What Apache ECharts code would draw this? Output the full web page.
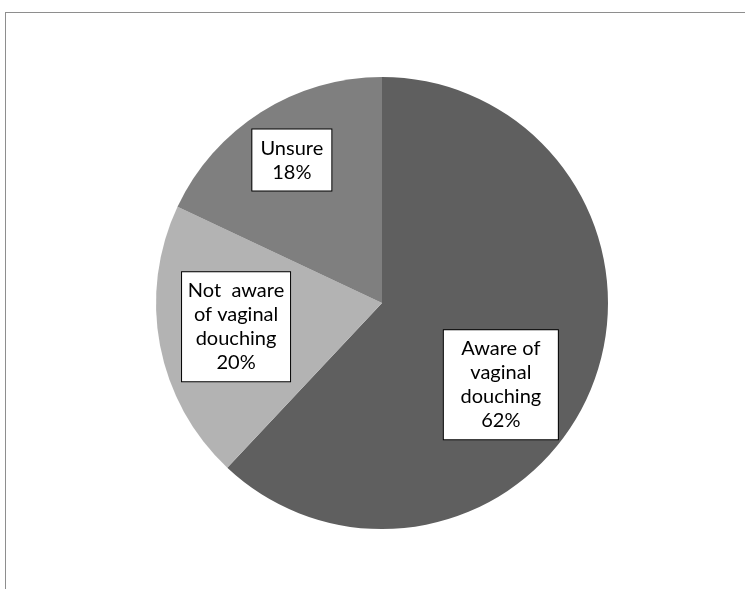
<!DOCTYPE html>
<html>
<head>
<meta charset="utf-8">
<script src="https://cdn.jsdelivr.net/npm/echarts@6/dist/echarts.min.js"></script>
<style>
  html, body { margin: 0; padding: 0; background: #fff; }
  #chart { width: 745px; height: 589px; position: relative; }
  #frame {
    position: absolute; left: 5px; top: 12px; right: 0; bottom: 0;
    border-top: 1px solid #8e8e8e; border-left: 1px solid #8e8e8e;
    pointer-events: none;
  }
</style>
</head>
<body>
<div id="chart"></div>
<div id="frame"></div>
<script>
  const categories = ["Aware of\nvaginal\ndouching", "Not  aware\nof vaginal\ndouching", "Unsure"];
  const shares = [62, 20, 18];
  const sliceColors = ["#5f5f5f", "#b3b3b3", "#7f7f7f"];
  // label nudges from the default inside spot, and box widths
  const labelOffsets = [[11, 39], [-32, 2], [-28, -45]];
  const labelWidths = [106, 100, 71];

  const chart = echarts.init(document.getElementById("chart"), null, { renderer: "canvas" });

  const data = categories.map((name, i) => ({
    name,
    value: shares[i],
    itemStyle: { color: sliceColors[i] },
    label: { offset: labelOffsets[i], width: labelWidths[i] },
  }));

  chart.setOption({
    animation: false,
    backgroundColor: "#fff",
    series: [
      {
        type: "pie",
        center: [382, 303],
        radius: [0, 226],
        startAngle: 90,
        clockwise: true,
        itemStyle: { borderWidth: 0 },
        label: {
          show: true,
          position: "inside",
          formatter: (p) => `${p.name}\n${p.value}%`,
          fontFamily: "Lato",
          fontSize: 20,
          lineHeight: 24,
          overflow: "none",
          color: "#000",
          align: "center",
          backgroundColor: "#fff",
          borderColor: "#000",
          borderWidth: 1,
          padding: [7, 4, 6, 4],
        },
        labelLine: { show: false },
        emphasis: { disabled: true },
        data,
      },
    ],
  });
</script>
</body>
</html>
